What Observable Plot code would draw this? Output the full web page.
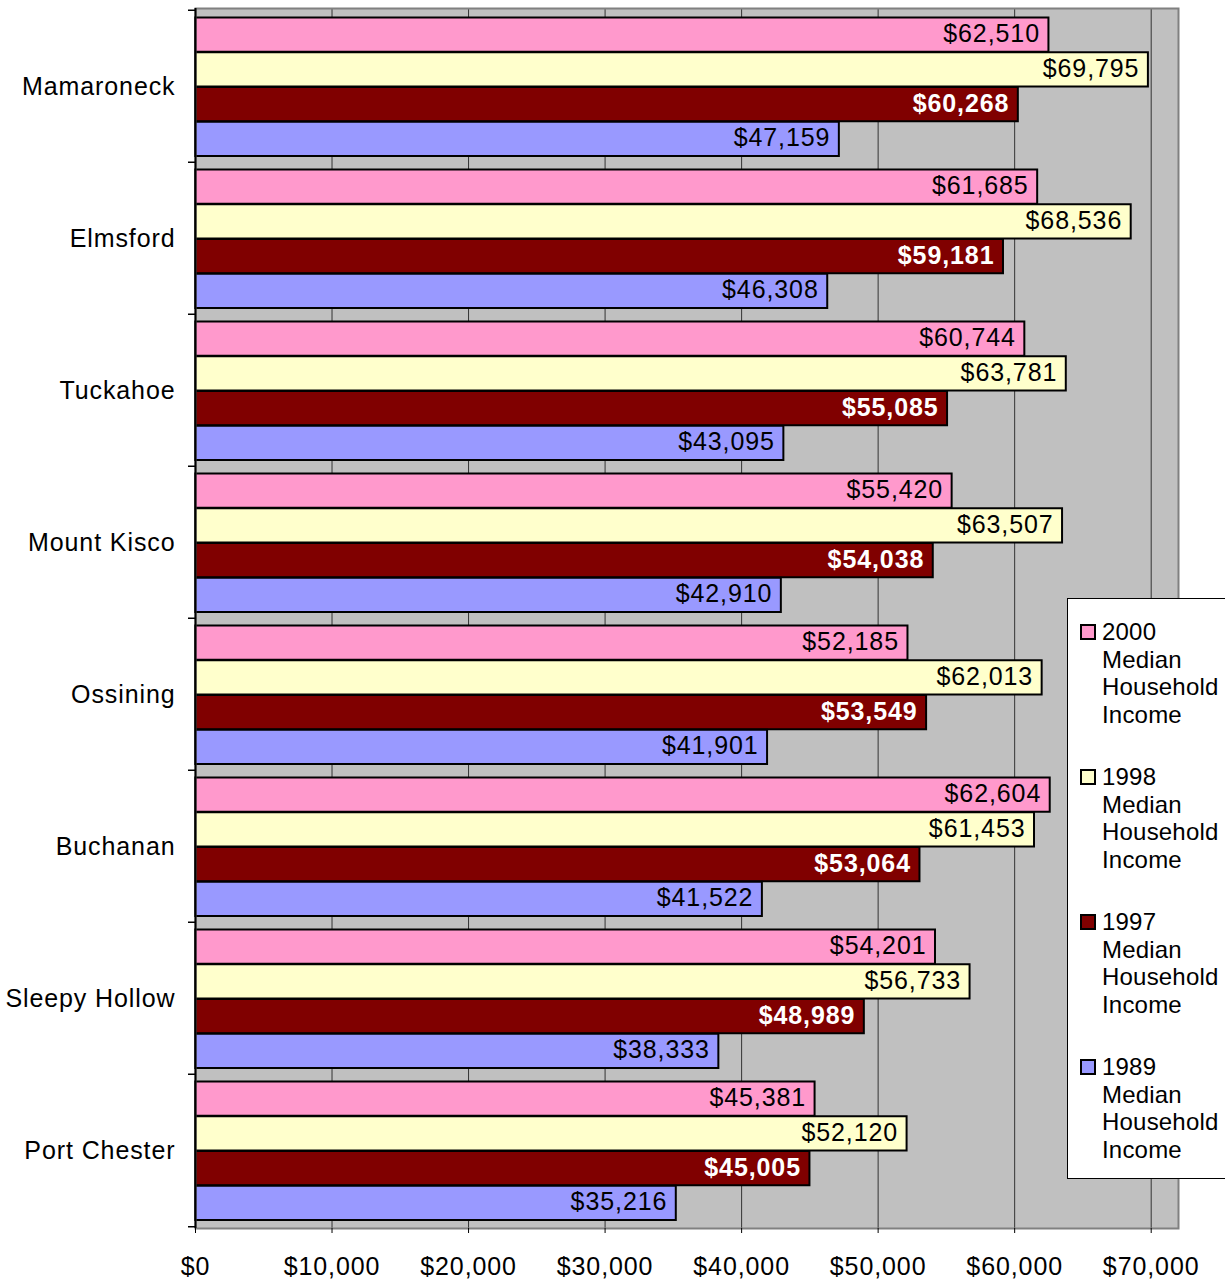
<!DOCTYPE html>
<html>
<head>
<meta charset="utf-8">
<script src="https://cdn.jsdelivr.net/npm/d3@7"></script>
<script src="https://cdn.jsdelivr.net/npm/@observablehq/plot@0.6"></script>
<style>
  html, body { margin: 0; padding: 0; background: white; }
  #wrap { position: relative; width: 1225px; height: 1279px; overflow: hidden; font-family: "Liberation Sans", Arial, sans-serif; }
  #legend { position: absolute; left: 1067px; top: 598px; width: 180px; height: 581px; background: white; border: 1px solid #000; box-sizing: border-box; }
  .item { position: absolute; left: 12px; font-size: 24px; line-height: 27.5px; color: #000; letter-spacing: 0.2px; }
  .sw { position: absolute; left: 0; top: 6px; width: 12px; height: 12px; border: 2px solid #000; }
  .lbl { margin-left: 22px; }
</style>
</head>
<body>
<div id="wrap"></div>
<script>
const towns = ["Mamaroneck", "Elmsford", "Tuckahoe", "Mount Kisco", "Ossining", "Buchanan", "Sleepy Hollow", "Port Chester"];
const seriesNames = ["2000 Median Household Income", "1998 Median Household Income", "1997 Median Household Income", "1989 Median Household Income"];
const seriesColors = ["#FF99CC", "#FFFFCC", "#800000", "#9999FF"];
const income2000 = [62510, 61685, 60744, 55420, 52185, 62604, 54201, 45381];
const income1998 = [69795, 68536, 63781, 63507, 62013, 61453, 56733, 52120];
const income1997 = [60268, 59181, 55085, 54038, 53549, 53064, 48989, 45005];
const income1989 = [47159, 46308, 43095, 42910, 41901, 41522, 38333, 35216];
const xTicks = [0, 10000, 20000, 30000, 40000, 50000, 60000, 70000];

const seriesValues = [income2000, income1998, income1997, income1989];
const rows = seriesValues.map((vals, s) => towns.map((t, i) => ({town: t, value: vals[i], s})));
const fmt = v => "$" + d3.format(",")(v);

const W = 1225, H = 1279, mL = 195, mR = 47, mT = 8, mB = 51;
const step = (H - mT - mB) / towns.length;   // band height per town
const gapTop = 7.5, barH = 34.75;
const font = "'Liberation Sans', Arial, sans-serif";

const marks = [
  Plot.frame({fill: "#C0C0C0"}),
  Plot.ruleX(xTicks.slice(1), {stroke: "#333", strokeWidth: 1})
];
rows.forEach((data, s) => {
  const insetTop = gapTop + s * barH;
  const insetBottom = step - gapTop - (s + 1) * barH;
  marks.push(Plot.barX(data, {y: "town", x: "value", fill: seriesColors[s], stroke: "#000", strokeWidth: 2, insetTop, insetBottom}));
});
rows.forEach((data, s) => {
  const dy = gapTop + (s + 0.5) * barH - step / 2 - 1;
  marks.push(Plot.text(data, {
    y: "town", x: "value", text: d => fmt(d.value), textAnchor: "end", dx: -9, dy,
    fill: s === 2 ? "#fff" : "#000", fontWeight: s === 2 ? "bold" : "normal",
    fontSize: 25, style: "letter-spacing:0.8px"
  }));
});
marks.push(
  Plot.frame({stroke: "#808080", strokeWidth: 2}),
  Plot.ruleX([0], {stroke: "#000", strokeWidth: 2}),
  Plot.ruleY(towns, {y: d => d, x1: 0, x2: 0, insetLeft: -7, dy: -step / 2, stroke: "#000", strokeWidth: 1.5}),
  Plot.ruleY(towns.slice(-1), {y: d => d, x1: 0, x2: 0, insetLeft: -7, dy: step / 2, stroke: "#000", strokeWidth: 1.5}),
  Plot.axisY({tickSize: 0, tickPadding: 20, fontSize: 25, label: null}),
  Plot.axisX({ticks: xTicks, tickFormat: fmt, tickSize: 5, tickPadding: 24, fontSize: 25, label: null, anchor: "bottom"})
);

const chart = Plot.plot({
  width: W, height: H,
  marginLeft: mL, marginRight: mR, marginTop: mT, marginBottom: mB,
  style: {fontFamily: font, fontSize: "25px", color: "#000", background: "white", overflow: "visible"},
  x: {domain: [0, 72000]},
  y: {domain: towns, padding: 0, axis: null},
  marks
});
chart.querySelectorAll("text").forEach(t => { if (!t.getAttribute("style")) t.setAttribute("style", "letter-spacing:0.9px"); });
const wrap = document.getElementById("wrap");
wrap.appendChild(chart);

const legend = document.createElement("div");
legend.id = "legend";
seriesNames.forEach((name, s) => {
  const it = document.createElement("div");
  it.className = "item";
  it.style.top = (19 + s * 145) + "px";
  const sw = document.createElement("div");
  sw.className = "sw";
  sw.style.background = seriesColors[s];
  it.appendChild(sw);
  const lb = document.createElement("div");
  lb.className = "lbl";
  lb.innerHTML = name.split(" ").join("<br>");
  it.appendChild(lb);
  legend.appendChild(it);
});
wrap.appendChild(legend);
</script>
</body>
</html>
